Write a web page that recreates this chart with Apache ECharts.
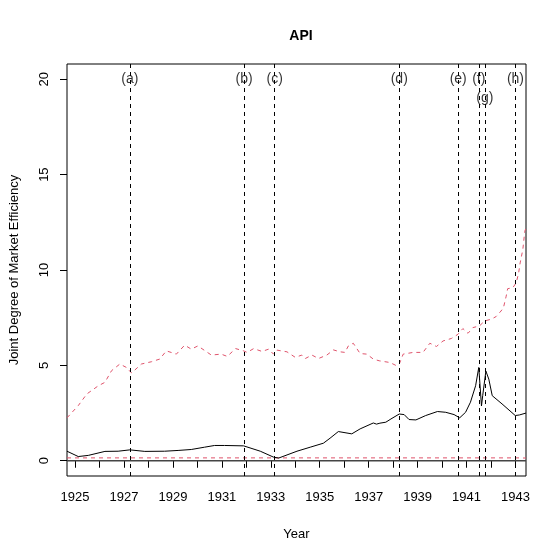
<!DOCTYPE html>
<html>
<head>
<meta charset="utf-8">
<script src="https://cdn.jsdelivr.net/npm/echarts@6/dist/echarts.min.js"></script>
<style>
  html, body { margin: 0; padding: 0; background: #fff; }
  #chart { width: 559px; height: 559px; }
</style>
</head>
<body>
<div id="chart"></div>
<script>
// solid black series (joint degree of market efficiency)
const blackYears = [1924.67, 1925.13, 1925.54, 1926.22, 1926.76, 1927.24, 1927.85, 1928.66, 1929.21, 1929.75,
  1930.29, 1930.70, 1931.11, 1931.89, 1932.57, 1933.11, 1933.32, 1934.07, 1934.61, 1935.15,
  1935.42, 1935.76, 1936.31, 1936.65, 1937.19, 1937.32, 1937.46, 1937.70, 1937.91, 1938.25,
  1938.45, 1938.65, 1938.93, 1939.33, 1939.81, 1940.15, 1940.49, 1940.72, 1940.96, 1941.16,
  1941.37, 1941.50, 1941.61, 1941.66, 1941.79, 1941.91, 1942.05, 1942.45, 1942.99, 1943.16, 1943.43]
const blackValues = [0.50, 0.22, 0.28, 0.49, 0.50, 0.57, 0.49, 0.50, 0.54, 0.59,
  0.71, 0.80, 0.80, 0.78, 0.50, 0.19, 0.14, 0.50, 0.71, 0.92,
  1.18, 1.53, 1.41, 1.67, 1.98, 1.92, 1.97, 2.02, 2.19, 2.45,
  2.42, 2.16, 2.14, 2.37, 2.58, 2.54, 2.42, 2.25, 2.54, 3.07,
  3.93, 4.89, 2.87, 3.41, 4.70, 4.28, 3.41, 2.98, 2.37, 2.40, 2.50]

// red dashed upper series
const redYears = [1924.67, 1925.13, 1925.48, 1925.95, 1926.22, 1926.49, 1926.83, 1927.10, 1927.31, 1927.71,
  1928.12, 1928.46, 1928.73, 1929.14, 1929.48, 1929.75, 1930.02, 1930.57, 1930.97, 1931.22,
  1931.56, 1931.89, 1932.03, 1932.30, 1932.64, 1932.91, 1933.11, 1933.25, 1933.66, 1934.00,
  1934.27, 1934.41, 1934.68, 1934.95, 1935.29, 1935.56, 1935.83, 1936.03, 1936.17, 1936.37,
  1936.65, 1936.92, 1937.19, 1937.43, 1937.87, 1938.14, 1938.25, 1938.41, 1938.82, 1939.22,
  1939.50, 1939.77, 1940.04, 1940.38, 1940.65, 1940.85, 1941.06, 1941.26, 1941.53, 1941.74,
  1942.01, 1942.21, 1942.41, 1942.51, 1942.62, 1942.68, 1942.89, 1943.03, 1943.13, 1943.19,
  1943.30, 1943.38, 1943.43]
const redValues = [2.25, 2.89, 3.50, 3.93, 4.11, 4.72, 5.07, 4.89, 4.60, 5.07,
  5.19, 5.33, 5.76, 5.59, 6.06, 5.85, 6.02, 5.54, 5.59, 5.47,
  5.88, 5.76, 5.68, 5.88, 5.73, 5.85, 5.59, 5.80, 5.71, 5.42,
  5.54, 5.36, 5.54, 5.36, 5.54, 5.81, 5.71, 5.68, 6.02, 6.16,
  5.62, 5.59, 5.33, 5.24, 5.15, 4.98, 5.07, 5.59, 5.68, 5.68,
  6.16, 5.99, 6.28, 6.41, 6.63, 6.93, 6.68, 6.98, 7.07, 7.33,
  7.42, 7.56, 7.85, 8.03, 8.63, 9.02, 9.07, 9.33, 9.85, 10.37,
  11.07, 12.03, 12.2]

// red dashed lower reference level
const lowerLevel = 0.15

// event markers
const eventYears = [1927.24, 1931.91, 1933.16, 1938.25, 1940.66, 1941.50, 1941.75, 1943.0]
const eventLabels = ['(a)', '(b)', '(c)', '(d)', '(e)', '(f)', '(g)', '(h)']
const eventLabelY = [20, 20, 20, 20, 20, 20, 19, 20]

// axes
const xMin = 1924.67
const xMax = 1943.43
const xTicks = [1925, 1926, 1927, 1928, 1929, 1930, 1931, 1932, 1933, 1934, 1935, 1936, 1937, 1938, 1939, 1940, 1941, 1942, 1943]
const xTickLabels = [1925, 1927, 1929, 1931, 1933, 1935, 1937, 1939, 1941, 1943]
const yTicks = [0, 5, 10, 15, 20]

const font = 'Liberation Sans, Arial, Helvetica, sans-serif'
const red = '#DF536B'

const chart = echarts.init(document.getElementById('chart'))

const option = {
  animation: false,
  title: {
    text: 'API',
    left: 296,
    top: 24,
    textAlign: 'center',
    textStyle: { fontFamily: font, fontSize: 14, fontWeight: 'bold', color: '#000' }
  },
  grid: {
    left: 66, right: 33, top: 64, bottom: 83,
    show: true, borderColor: '#000', borderWidth: 1, backgroundColor: 'transparent'
  },
  xAxis: {
    type: 'value',
    min: xMin,
    max: xMax,
    name: 'Year',
    nameLocation: 'middle',
    nameGap: 52,
    nameTextStyle: { fontFamily: font, fontSize: 13, color: '#000' },
    splitLine: { show: false },
    axisLine: { show: false },
    axisTick: { show: true, length: 7, customValues: xTicks, lineStyle: { color: '#000' } },
    axisLabel: {
      customValues: xTickLabels,
      margin: 15,
      fontFamily: font, fontSize: 13, color: '#000',
      formatter: v => String(Math.round(v))
    }
  },
  yAxis: {
    type: 'value',
    min: -0.8,
    max: 20.8,
    name: 'Joint Degree of Market Efficiency',
    nameLocation: 'middle',
    nameGap: 46,
    nameRotate: 90,
    nameTextStyle: { fontFamily: font, fontSize: 13, color: '#000' },
    splitLine: { show: false },
    axisLine: { show: false },
    axisTick: { show: true, length: 7, customValues: yTicks, lineStyle: { color: '#000' } },
    axisLabel: {
      customValues: yTicks,
      rotate: 90,
      align: 'center',
      verticalAlign: 'bottom',
      margin: 16,
      fontFamily: font, fontSize: 13, color: '#000'
    }
  },
  series: [
    {
      type: 'line',
      name: 'upper',
      data: redYears.map((x, i) => [x, redValues[i]]),
      symbol: 'none',
      lineStyle: { color: red, width: 1, type: [4, 4] },
      z: 3
    },
    {
      type: 'line',
      name: 'lower',
      data: [[xMin, lowerLevel], [xMax, lowerLevel]],
      symbol: 'none',
      lineStyle: { color: red, width: 1, type: [4, 4] },
      z: 3
    },
    {
      type: 'line',
      name: 'efficiency',
      data: blackYears.map((x, i) => [x, blackValues[i]]),
      symbol: 'none',
      lineStyle: { color: '#000', width: 1 },
      z: 4,
      markLine: {
        silent: true,
        symbol: ['none', 'none'],
        label: { show: false },
        lineStyle: { color: '#000', width: 1, type: [4, 4] },
        data: eventYears.map(x => ({ xAxis: x }))
      }
    },
    {
      type: 'line',
      name: 'zero',
      data: [[xMin, 0], [xMax, 0]],
      symbol: 'none',
      lineStyle: { color: '#444', width: 1.5 },
      z: 2
    },
    {
      type: 'scatter',
      name: 'events',
      data: eventYears.map((x, i) => [x, eventLabelY[i]]),
      symbolSize: 0,
      label: {
        show: true,
        position: 'inside',
        formatter: p => eventLabels[p.dataIndex],
        fontFamily: font, fontSize: 14, color: '#000',
        backgroundColor: 'transparent'
      },
      z: 5
    }
  ]
}

chart.setOption(option)
</script>
</body>
</html>
